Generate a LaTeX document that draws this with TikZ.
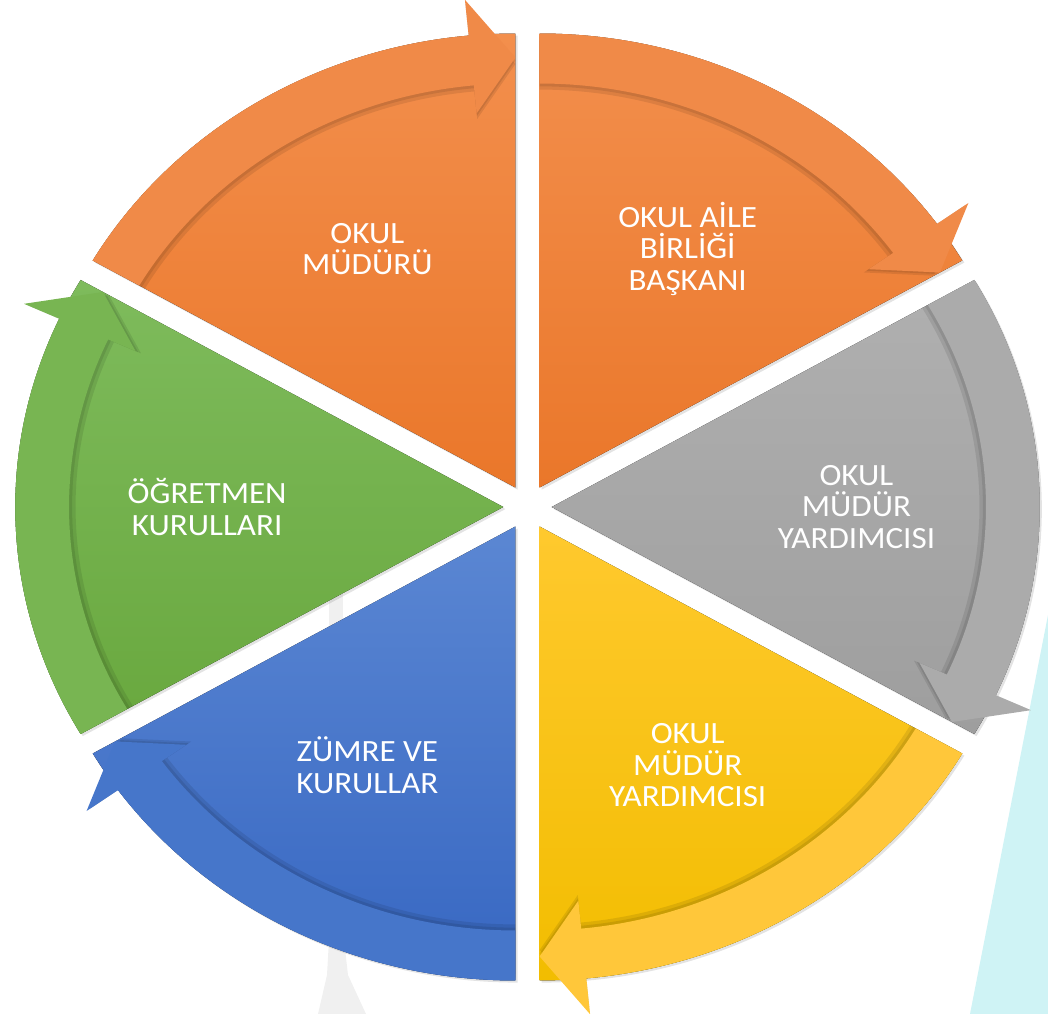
\documentclass[tikz,border=0pt]{standalone}
\usepackage{fontspec}
\setmainfont{Carlito}[FakeStretch=1.07]
\usepackage{tikz}
\usetikzlibrary{shadows}
\definecolor{orangetop}{HTML}{F38F4D}
\definecolor{orangebottom}{HTML}{EA772A}
\definecolor{orangeband}{HTML}{F08A48}
\definecolor{graytop}{HTML}{B0B0B0}
\definecolor{graybottom}{HTML}{9E9E9E}
\definecolor{grayband}{HTML}{ABABAB}
\definecolor{yellowtop}{HTML}{FFC92E}
\definecolor{yellowbottom}{HTML}{F2BD00}
\definecolor{yellowband}{HTML}{FFC73A}
\definecolor{bluetop}{HTML}{5B87D3}
\definecolor{bluebottom}{HTML}{3767C2}
\definecolor{blueband}{HTML}{4676CA}
\definecolor{greentop}{HTML}{7EBB5C}
\definecolor{greenbottom}{HTML}{69A83E}
\definecolor{greenband}{HTML}{78B552}
\definecolor{paleblue}{HTML}{CFF3F5}
\tikzstyle{wedge} = [drop shadow={opacity=0.22, shadow xshift=1.5pt, shadow yshift=-1.5pt}]
\tikzstyle{bandshadow} = [fill=black, opacity=0.09]
\tikzstyle{bandpath} = [insert path={(\secstart:404) -- (\secstart:454)
      arc[start angle=\secstart, end angle=\sechead, radius=454]
      -- (\sechead:490) -- (\secend:430) -- (\sechead:376) -- (\sechead:404)
      arc[start angle=\sechead, end angle=\secstart, radius=404] -- cycle}]
\tikzstyle{orangebody} = [top color=orangetop, bottom color=orangebottom]
\tikzstyle{graybody} = [top color=graytop, bottom color=graybottom]
\tikzstyle{yellowbody} = [top color=yellowtop, bottom color=yellowbottom]
\tikzstyle{bluebody} = [top color=bluetop, bottom color=bluebottom]
\tikzstyle{greenbody} = [top color=greentop, bottom color=greenbottom]
\tikzstyle{sectortext} = [text=white, align=center, font=\fontsize{22pt}{22.5pt}\selectfont]
% one slice of the cycle: start angle, body style, arrow colour
\newcommand{\cyclesector}[3]{%
  \pgfmathsetmacro{\secstart}{#1}%
  \pgfmathsetmacro{\secmid}{#1-30}%
  \pgfmathsetmacro{\secend}{#1-60}%
  \pgfmathsetmacro{\sechead}{#1-54.5}%
  \begin{scope}[shift={(\secmid:22.5)}]
    \fill[wedge, #2] (0,0) -- (#1:454) arc[start angle=#1, end angle=\secend, radius=454] -- cycle;
    \fill[bandshadow, scale=0.985, bandpath];
    \fill[bandshadow, scale=0.993, bandpath];
    \fill[#3, bandpath];
  \end{scope}}
\begin{document}
\begin{tikzpicture}[x=0.025cm, y=0.025cm]
  \useasboundingbox (0,0) rectangle (1048,1014);
  % background
  \fill[paleblue] (1048,399) -- (970,0) -- (1048,0) -- cycle;
  \fill[black!6] (329,74) rectangle (343,430);
  \fill[black!6] (329,74) -- (344,74) -- (348,39) -- (366,0) -- (318,0) -- (327,39) -- cycle;

  \begin{scope}[shift={(527.5,507)}, xscale=1.075]
    \cyclesector{150}{orangebody}{orangeband}
    \cyclesector{90}{orangebody}{orangeband}
    \cyclesector{30}{graybody}{grayband}
    \cyclesector{-30}{yellowbody}{yellowband}
    \cyclesector{-90}{bluebody}{blueband}
    \cyclesector{210}{greenbody}{greenband}

    \node[sectortext] (mudur) at (120:298) {OKUL\\MÜDÜRÜ};
    \node[sectortext] (aile) at (60:298) {OKUL AİLE\\BİRLİĞİ\\BAŞKANI};
    \node[sectortext] (yardimci) at (0:306) {OKUL\\MÜDÜR\\YARDIMCISI};
    \node[sectortext] (yardimcib) at (-60:298) {OKUL\\MÜDÜR\\YARDIMCISI};
    \node[sectortext] (zumre) at (-120:298) {ZÜMRE VE\\KURULLAR};
    \node[sectortext] (ogretmen) at (180:298) {ÖĞRETMEN\\KURULLARI};
  \end{scope}
\end{tikzpicture}
\end{document}
